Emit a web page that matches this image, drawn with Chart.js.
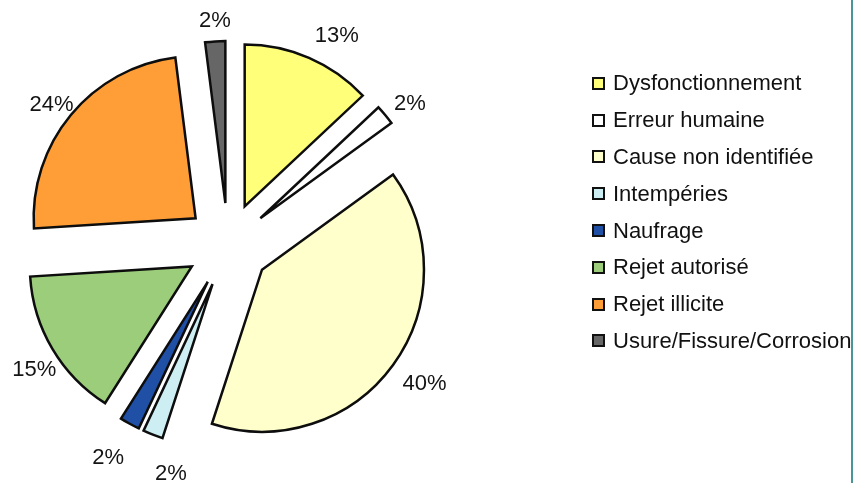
<!DOCTYPE html>
<html>
<head>
<meta charset="utf-8">
<script src="https://cdn.jsdelivr.net/npm/chart.js@4"></script>
<style>
  html, body { margin: 0; padding: 0; background: #fff; }
  #wrap { position: relative; width: 853px; height: 483px; overflow: hidden; }
  #pie { position: absolute; left: 0; top: 0; }
  #legend { position: absolute; left: 592px; top: 65px; font-family: "Liberation Sans", Arial, sans-serif; font-size: 22px; color: #111; }
  .legend-row { display: flex; align-items: center; height: 36.8px; white-space: nowrap; }
  .legend-box { width: 13px; height: 13px; box-sizing: border-box; border: 2px solid #111; margin-right: 8px; }
  #edge { position: absolute; left: 851px; top: 0; width: 2px; height: 483px; background: #4a9696; }
</style>
</head>
<body>
<div id="wrap">
  <canvas id="pie" width="853" height="483"></canvas>
  <div id="legend"></div>
  <div id="edge"></div>
</div>
<script>
// Chart data
const categories = [
    'Dysfonctionnement',
    'Erreur humaine',
    'Cause non identifiée',
    'Intempéries',
    'Naufrage',
    'Rejet autorisé',
    'Rejet illicite',
    'Usure/Fissure/Corrosion'
];
const shares = [13, 2, 40, 2, 2, 15, 24, 2];
const sliceColors = ['#ffff7a', '#ffffff', '#ffffcc', '#cdeef2', '#1f50a6', '#9bcd7b', '#ff9e36', '#666666'];

// Every slice is pulled out of the centre by the same distance
const EXPLODE = 42;

// Draw the arcs ourselves so each slice is shifted without changing its radius
const explodePlugin = {
    id: 'explode',
    beforeDatasetDraw(chart, args) {
        const ctx = chart.ctx;
        args.meta.data.forEach(arc => {
            const mid = (arc.startAngle + arc.endAngle) / 2;
            ctx.save();
            ctx.translate(Math.cos(mid) * EXPLODE, Math.sin(mid) * EXPLODE);
            arc.draw(ctx);
            ctx.restore();
        });
        return false;
    }
};

// Percent labels outside each slice (hand-placed a little, like the original)
const percentLabels = {
    id: 'percentLabels',
    afterDatasetsDraw(chart, args, opts) {
        const ctx = chart.ctx;
        const meta = chart.getDatasetMeta(0);
        const values = chart.data.datasets[0].data;
        ctx.save();
        ctx.font = opts.font;
        ctx.fillStyle = opts.color;
        ctx.textAlign = 'center';
        ctx.textBaseline = 'alphabetic';
        meta.data.forEach((arc, i) => {
            const p = arc.getProps(['x', 'y', 'startAngle', 'endAngle', 'outerRadius'], true);
            const shift = (opts.angleShift[i] || 0) * Math.PI / 180;
            const mid = (p.startAngle + p.endAngle) / 2 + shift;
            const r = p.outerRadius + EXPLODE + opts.gap[i];
            ctx.fillText(values[i] + '%', p.x + Math.cos(mid) * r, p.y + Math.sin(mid) * r + opts.capHalf);
        });
        ctx.restore();
    }
};

function buildLegend() {
    const legendEl = document.getElementById('legend');
    legendEl.innerHTML = categories.map((name, i) => `
        <div class="legend-row">
            <span class="legend-box" style="background:${sliceColors[i]}"></span>
            <span>${name}</span>
        </div>
    `).join('');
}

document.addEventListener('DOMContentLoaded', function() {
    const ctx = document.getElementById('pie').getContext('2d');
    new Chart(ctx, {
        type: 'pie',
        data: {
            labels: categories,
            datasets: [{
                data: shares,
                backgroundColor: sliceColors,
                borderColor: '#0d0d0d',
                borderWidth: 2.5,
                borderJoinStyle: 'miter',
                clip: false
            }]
        },
        options: {
            responsive: false,
            animation: false,
            events: [],
            radius: 162,
            layout: {
                padding: { left: 0, right: 397, top: 7, bottom: 0 }
            },
            plugins: {
                legend: { display: false },
                tooltip: { enabled: false },
                percentLabels: {
                    font: '22px "Liberation Sans", Arial, sans-serif',
                    color: '#141414',
                    capHalf: 7.8,
                    gap: [33, 27.5, 36, 30, 38.5, 25.5, 22.5, 22.5],
                    angleShift: { 0: 3.9, 1: 1.4, 2: -1, 3: -7.5, 4: 0.8, 5: -1.8, 6: -0.8, 7: 0.3 }
                }
            }
        },
        plugins: [explodePlugin, percentLabels]
    });
    buildLegend();
});
</script>
</body>
</html>
